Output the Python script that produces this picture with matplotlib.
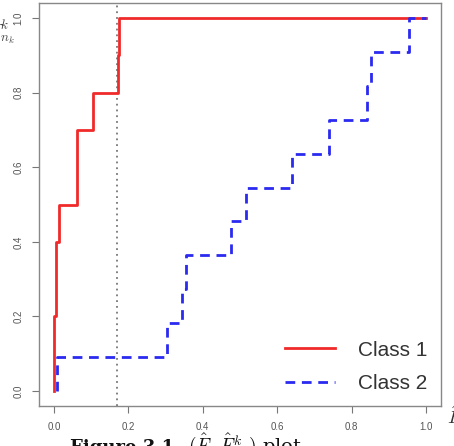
import matplotlib
matplotlib.use('Agg')
import matplotlib.pyplot as plt

# Data
class1_x = [0.001, 0.001, 0.007, 0.013, 0.062, 0.106, 0.171, 0.175, 1.0]
class1_y = [0.0, 0.2, 0.4, 0.5, 0.7, 0.8, 0.9, 1.0, 1.0]
class2_x = [0.008, 0.008, 0.303, 0.344, 0.356, 0.476, 0.516, 0.641, 0.739, 0.841, 0.853, 0.953, 1.0]
class2_y = [0.0, 0.091, 0.182, 0.273, 0.364, 0.455, 0.545, 0.636, 0.727, 0.818, 0.909, 1.0, 1.0]
threshold_x = 0.17
ticks = [0.0, 0.2, 0.4, 0.6, 0.8, 1.0]
tick_labels = ["0.0", "0.2", "0.4", "0.6", "0.8", "1.0"]
series_labels = ["Class 1", "Class 2"]

plt.rcParams['mathtext.fontset'] = 'cm'

W, H = 454, 446
fig = plt.figure(figsize=(W / 100, H / 100), dpi=100)
ax = fig.add_axes([39 / W, 1 - 406 / H, (441 - 39) / W, (406 - 3) / H])

ax.axvline(threshold_x, color='#777777', lw=1.3, dashes=(1, 2.2))
ax.step(class1_x, class1_y, where='post', color='#f02a2a', lw=2.0,
        label=series_labels[0])
ax.step(class2_x, class2_y, where='post', color='#2a2af0', lw=2.0,
        dashes=(3.5, 2.4), label=series_labels[1])

ax.set_xlim(-0.04, 1.04)
ax.set_ylim(-0.04, 1.04)
ax.set_xticks(ticks)
ax.set_xticklabels(tick_labels)
ax.set_yticks(ticks)
ax.set_yticklabels(tick_labels, rotation=90, va='center')
ax.tick_params(length=5, width=0.8, color='#777777', labelcolor='#555555',
               labelsize=7)
ax.tick_params(axis='x', pad=6.5)
ax.tick_params(axis='y', pad=6)
for lab in ax.get_xticklabels() + ax.get_yticklabels():
    lab.set_family('Liberation Sans')
for s in ax.spines.values():
    s.set_color('#888888')
    s.set_linewidth(1.0)

leg = ax.legend(loc='lower right', bbox_to_anchor=(0.967, 0.032), frameon=False,
                prop={'family': 'Liberation Sans', 'size': 15},
                handlelength=2.4, handletextpad=1.1, labelspacing=0.7,
                borderpad=0, borderaxespad=0)
for t in leg.get_texts():
    t.set_color('#333333')

# y label at top-left (partly cut off)
fig.text(15 / W, 1 - 32 / H, r'$\hat{F}^{k}_{n_k}$', ha='right', va='center',
         fontsize=13.5, color='#444444')
# x label at bottom-right (partly cut off)
fig.text(447 / W, 1 - 417 / H, r'$\hat{F}$', ha='left', va='center',
         fontsize=13.5, color='#333333')
# caption (cut off at bottom)
fig.text(70 / W, 1 - 453 / H, 'Figure 3.1', ha='left', va='baseline',
         fontsize=13, family='DejaVu Serif', weight='bold', color='#111111')
fig.text(188 / W, 1 - 453 / H, r'$(\hat{F},\,\hat{F}^k_{n_k})$ plot', ha='left',
         va='baseline', fontsize=14, family='DejaVu Serif', color='#111111')

fig.savefig('out.png', dpi=100)
